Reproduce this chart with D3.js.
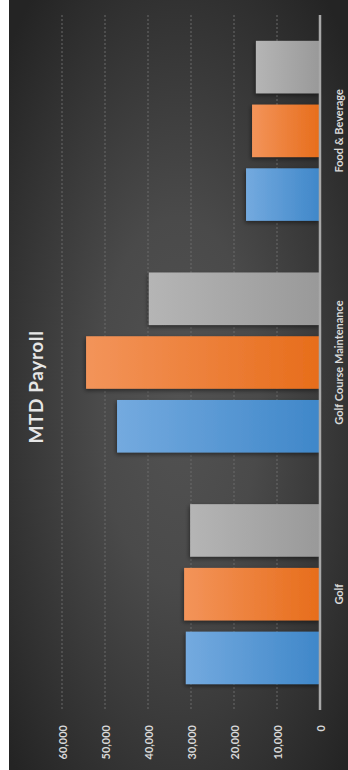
<!DOCTYPE html>
<html><head><meta charset="utf-8">
<script src="https://cdn.jsdelivr.net/npm/d3@7"></script>
<style>html,body{margin:0;padding:0;background:#fff;} svg{display:block}</style>
</head><body><svg id="c" width="348" height="770"></svg>
<script>
const categories = ["Golf", "Golf Course Maintenance", "Food & Beverage"];
const seriesNames = ["Series 1", "Series 2", "Series 3"];
const series1 = [31200, 47200, 17200];
const series2 = [31600, 54400, 15800];
const series3 = [30200, 39800, 14900];
const tickValues = [0, 10000, 20000, 30000, 40000, 50000, 60000];
const titleText = "MTD Payroll";

const seriesValues = [series1, series2, series3];
const colors = [
  ["#74aadf", "#3f87c9"],
  ["#f3945a", "#e76d1b"],
  ["#b5b5b5", "#999999"]
];

const svg = d3.select("#c");
const defs = svg.append("defs");
const bg = defs.append("radialGradient").attr("id", "bg").attr("cx", "50%").attr("cy", "52%").attr("r", "68%");
bg.append("stop").attr("offset", "0%").attr("stop-color", "#525252");
bg.append("stop").attr("offset", "35%").attr("stop-color", "#4a4a4a");
bg.append("stop").attr("offset", "100%").attr("stop-color", "#242424");
colors.forEach((c, i) => {
  const g = defs.append("linearGradient").attr("id", "g" + i).attr("x1", 0).attr("x2", 1).attr("y1", 0).attr("y2", 0);
  g.append("stop").attr("offset", "0%").attr("stop-color", c[0]);
  g.append("stop").attr("offset", "100%").attr("stop-color", c[1]);
});
const f = defs.append("filter").attr("id", "sh").attr("x", "-20%").attr("y", "-20%").attr("width", "140%").attr("height", "140%");
f.append("feDropShadow").attr("dx", -1).attr("dy", 2).attr("stdDeviation", 2).attr("flood-color", "#000").attr("flood-opacity", 0.45);

svg.append("rect").attr("x", 9).attr("y", 0).attr("width", 339).attr("height", 770).attr("fill", "url(#bg)");

const x = d3.scaleLinear().domain([0, 60000]).range([320, 62]);
const y0 = d3.scaleBand().domain(categories).range([710, 15]).paddingInner(0.223).paddingOuter(0.1115);
const y1 = d3.scaleBand().domain(seriesNames).range([y0.bandwidth(), 0]).paddingInner(0.176);

// gridlines
svg.append("g").selectAll("line").data(tickValues.filter(d => d > 0)).join("line")
  .attr("x1", d => x(d)).attr("x2", d => x(d)).attr("y1", 15).attr("y2", 710)
  .attr("stroke", "#6a6a6a").attr("stroke-width", 1).attr("stroke-dasharray", "2,2");

// bars
const groups = svg.append("g").selectAll("g").data(categories).join("g")
  .attr("transform", d => `translate(0,${y0(d)})`);
groups.selectAll("rect").data((c, ci) => seriesNames.map((s, si) => ({ s, si, v: seriesValues[si][ci] }))).join("rect")
  .attr("x", d => x(d.v)).attr("width", d => x(0) - x(d.v))
  .attr("y", d => y1(d.s)).attr("height", y1.bandwidth())
  .attr("fill", d => `url(#g${d.si})`).attr("filter", "url(#sh)");

// axis line
svg.append("line").attr("x1", x(0)).attr("x2", x(0)).attr("y1", 15).attr("y2", 710)
  .attr("stroke", "#a8a8a8").attr("stroke-width", 2.5);

const font = "Lato, 'Open Sans', sans-serif";
// tick labels
svg.append("g").selectAll("text").data(tickValues).join("text")
  .attr("transform", d => `translate(${x(d)},725) rotate(-90)`)
  .attr("text-anchor", "end").attr("dominant-baseline", "central")
  .attr("font-family", font).attr("font-weight", "bold").attr("font-size", 11)
  .attr("fill", "#d9d9d9").text(d => d3.format(",")(d));

// category labels
svg.append("g").selectAll("text").data(categories).join("text")
  .attr("transform", d => `translate(338,${y0(d) + y0.bandwidth() / 2}) rotate(-90)`)
  .attr("text-anchor", "middle").attr("dominant-baseline", "central")
  .attr("font-family", font).attr("font-weight", "bold").attr("font-size", 11)
  .attr("fill", "#d9d9d9").text(d => d);

// title
svg.append("text").attr("transform", "translate(35,387) rotate(-90)")
  .attr("text-anchor", "middle").attr("dominant-baseline", "central")
  .attr("font-family", font).attr("font-weight", "bold").attr("font-size", 19)
  .attr("letter-spacing", 0.6)
  .attr("fill", "#e6e6e6").text(titleText);
</script></body></html>
